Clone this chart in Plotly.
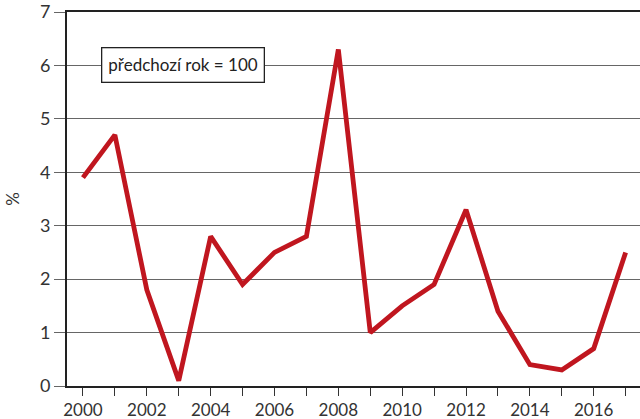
import plotly.graph_objects as go

years = list(range(2000, 2018))
inflation = [3.9, 4.7, 1.8, 0.1, 2.8, 1.9, 2.5, 2.8, 6.3, 1.0,
             1.5, 1.9, 3.3, 1.4, 0.4, 0.3, 0.7, 2.5]
tick_labels = [str(y) if y % 2 == 0 else '' for y in years]
y_ticks = [0, 1, 2, 3, 4, 5, 6, 7]

fig = go.Figure()

fig.add_trace(go.Scatter(x=years, y=inflation,
                         mode='lines',
                         line=dict(color='#c0161f', width=4.8),
                         showlegend=False))

fig.add_annotation(x=2000.55, y=6, xref='x', yref='y',
                   xanchor='left', yanchor='middle',
                   text='předchozí rok = 100', showarrow=False,
                   font=dict(size=17, color='#222'),
                   bgcolor='white', bordercolor='#222', borderwidth=1.3,
                   borderpad=6)

fig.update_xaxes(range=[1999.5, 2017.45], automargin=False,
                 tickvals=years, ticktext=tick_labels,
                 ticks='outside', ticklen=8, tickwidth=1.3, tickcolor='#333',
                 showline=True, linecolor='#222', linewidth=2, mirror=True,
                 showgrid=False, zeroline=False,
                 tickfont=dict(size=17, color='#333'))

fig.update_yaxes(range=[0, 7], tickvals=y_ticks, automargin=False,
                 ticks='outside', ticklen=11, tickwidth=1.3, tickcolor='#666',
                 showline=True, linecolor='#222', linewidth=2,
                 showgrid=True, gridcolor='#666', gridwidth=1.3,
                 zeroline=False,
                 title=dict(text='%', font=dict(size=17, color='#333'), standoff=16),
                 tickfont=dict(size=18, color='#333'))

fig.update_layout(width=640, height=419,
                  margin=dict(l=67, r=0, t=12, b=33),
                  plot_bgcolor='white', paper_bgcolor='white',
                  font=dict(family='Lato, sans-serif'))

fig.write_html("out.html", config={'displayModeBar': False},
               post_script="document.body.style.margin='0';")
